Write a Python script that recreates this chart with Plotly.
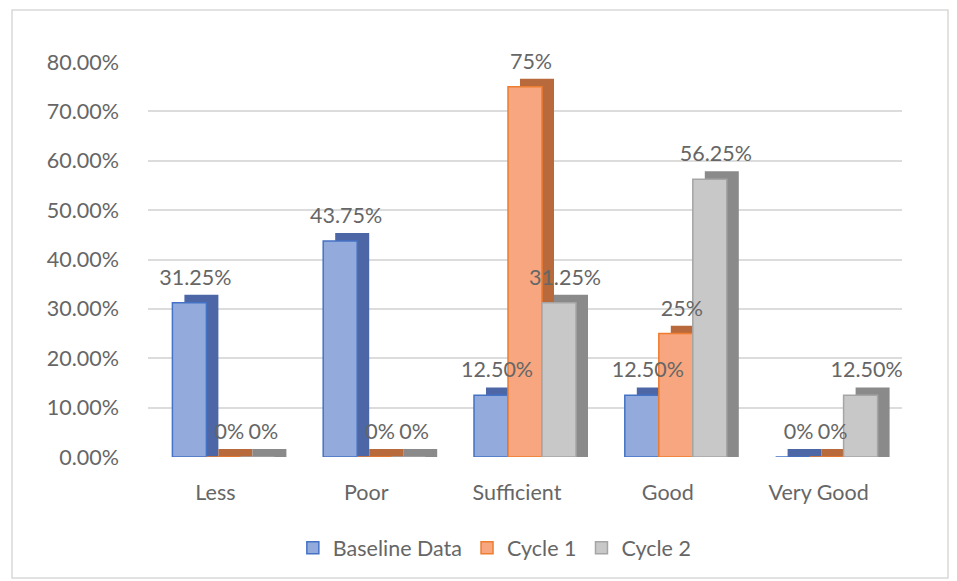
import plotly.graph_objects as go

categories = ["Less", "Poor", "Sufficient", "Good", "Very Good"]
series_names = ["Baseline Data", "Cycle 1", "Cycle 2"]
baseline = [0.3125, 0.4375, 0.125, 0.125, 0.0]
cycle1 = [0.0, 0.0, 0.75, 0.25, 0.0]
cycle2 = [0.0, 0.0, 0.3125, 0.5625, 0.125]
baseline_labels = ["31.25%", "43.75%", "12.50%", "12.50%", "0%"]
cycle1_labels = ["0%", "0%", "75%", "25%", "0%"]
cycle2_labels = ["0%", "0%", "31.25%", "56.25%", "12.50%"]
y_ticks = [0, 0.1, 0.2, 0.3, 0.4, 0.5, 0.6, 0.7, 0.8]

series = [baseline, cycle1, cycle2]
labels = [baseline_labels, cycle1_labels, cycle2_labels]
front_colors = ["#93abdc", "#f7a67f", "#c8c8c8"]
edge_colors = ["#4472c4", "#ed7d31", "#a5a5a5"]
side_colors = ["#4d67a6", "#b86a3c", "#8a8a8a"]

W, H = 957, 581
L, R, T, B = 148, 55, 62, 124
plot_w = W - L - R
cat_px = plot_w / len(categories)
bar_w = 34 / cat_px
depth_x = 12 / cat_px
depth_y = 0.016
label_lift = 0.02
offsets = [-1.5 * bar_w, -0.5 * bar_w, 0.5 * bar_w]
font = "Lato, 'Open Sans', sans-serif"
txt = "#666666"
fs = 21.5

fig = go.Figure()
for i in range(3):
    vals = series[i]
    fig.add_trace(go.Bar(
        x=categories, y=[v + depth_y for v in vals],
        width=bar_w, offset=offsets[i] + depth_x,
        marker=dict(color=side_colors[i], line=dict(width=0)),
        textposition="none", showlegend=False, hoverinfo="skip",
    ))
    fig.add_trace(go.Bar(
        x=categories, y=vals, name=series_names[i],
        width=bar_w, offset=offsets[i],
        marker=dict(color=front_colors[i], line=dict(color=edge_colors[i], width=1.5)),
        textposition="none",
    ))

# labels drawn last so bars don't cover them
for i in range(3):
    vals = series[i]
    fig.add_trace(go.Bar(
        x=categories, y=[v + label_lift for v in vals],
        width=bar_w, offset=offsets[i] + depth_x / 2,
        marker=dict(color="rgba(0,0,0,0)", line=dict(width=0)),
        text=labels[i], textposition="outside", constraintext="none",
        textfont=dict(size=fs, color=txt, family=font), cliponaxis=False,
        showlegend=False, hoverinfo="skip",
    ))

fig.update_layout(
    width=W, height=H,
    margin=dict(l=L, r=R, t=T, b=B),
    barmode="overlay",
    paper_bgcolor="white", plot_bgcolor="white",
    font=dict(family=font, size=fs, color=txt),
    xaxis=dict(showgrid=False, showline=False, ticks="", tickfont=dict(size=fs, color=txt),
               range=[-0.5, 4.5], ticklabelstandoff=20, ticklabelshift=-8),
    yaxis=dict(range=[0, 0.8], tickvals=y_ticks, tickformat=".2%", showgrid=True,
               gridcolor="#dcdcdc", gridwidth=2, zeroline=False, showline=False,
               ticks="", ticklabelstandoff=28, tickfont=dict(size=fs, color=txt)),
    legend=dict(orientation="h", x=0.46, xanchor="center", y=-0.23, yanchor="middle",
                font=dict(size=fs, color=txt), itemwidth=30, traceorder="normal"),
    shapes=[dict(type="rect", xref="paper", yref="paper",
                 x0=(12 - L) / plot_w, x1=(948 - L) / plot_w,
                 y0=(H - B - 578) / (H - T - B), y1=(H - B - 10) / (H - T - B),
                 line=dict(color="#d9d9d9", width=1.5), layer="below")],
)

fig.write_html("out.html")
